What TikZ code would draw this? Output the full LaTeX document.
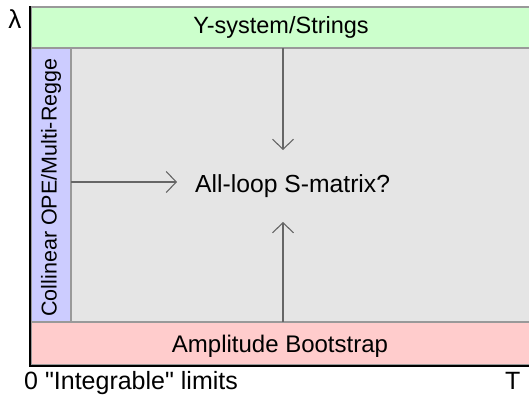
\documentclass[tikz,border=0pt]{standalone}
\usepackage{fontspec}
\setmainfont{Liberation Sans}
\newfontfamily\rawfont{Liberation Sans}
\usetikzlibrary{arrows.meta}
\definecolor{ygreen}{HTML}{CCFFCC}
\definecolor{cblue}{HTML}{CCCCFF}
\definecolor{cgray}{HTML}{E5E5E5}
\definecolor{apink}{HTML}{FFCCCC}
\definecolor{edge}{HTML}{999999}
\definecolor{arr}{HTML}{666666}
\begin{document}
\begin{tikzpicture}[x=1pt,y=-1pt,
  region/.style={draw=edge,line width=1.2pt,inner sep=0pt,outer sep=0pt},
  lab/.style={font=\fontsize{24.5}{28}\selectfont,inner sep=0pt},
  flow/.style={draw=arr,line width=1.3pt,-{Straight Barb[length=10pt,width=21pt,line width=1.1pt]}},
  axis/.style={line width=2.6pt,black}]
\useasboundingbox (0,0) rectangle (529,394);
\node[region,fill=cgray,minimum width=460pt,minimum height=274pt,anchor=north west] (mid) at (71,48) {};
\node[region,fill=ygreen,minimum width=500pt,minimum height=41pt,anchor=north west] (top) at (31,7) {};
\node[region,fill=apink,minimum width=500pt,minimum height=43pt,anchor=north west] (bot) at (31,322) {};
\node[region,fill=cblue,minimum width=40pt,minimum height=274pt,anchor=north west] (side) at (31,48) {};
\node[lab,font=\fontsize{23.5}{28}\selectfont,anchor=base] (ytext) at (281,33) {Y-system/Strings};
\node[lab,font=\fontsize{24}{28}\selectfont,anchor=base] (btext) at (280,352) {Amplitude Bootstrap};
\node[lab,font=\fontsize{21.5}{24}\selectfont,rotate=90] (stext) at (51,187.5) {Collinear OPE/Multi-Regge};
\node[lab,font=\fontsize{24.7}{28}\selectfont,anchor=base west] (goal) at (195,192) {All-loop S-matrix?};
\coordinate (topin) at (283,150);
\coordinate (botin) at (283,222);
\coordinate (sidein) at (177,182);
\draw[flow] (top.south -| topin) -- (topin);
\draw[flow] (bot.north -| botin) -- (botin);
\draw[flow] (side.east |- sidein) -- (sidein);
\coordinate (origin) at (30,366);
\coordinate (yend) at (30,6);
\coordinate (xend) at (529,366);
\draw[axis] (yend) -- (origin) -- (xend);
\node[lab,font=\fontsize{26}{28}\selectfont,anchor=base] (lam) at (15,28) {λ};
\node[lab,font=\rawfont\fontsize{25}{28}\selectfont,anchor=base west] (zero) at (24,389) {0 "Integrable" limits};
\node[lab,font=\fontsize{25}{28}\selectfont,anchor=base west] (tmax) at (505,389) {T};
\end{tikzpicture}
\end{document}
